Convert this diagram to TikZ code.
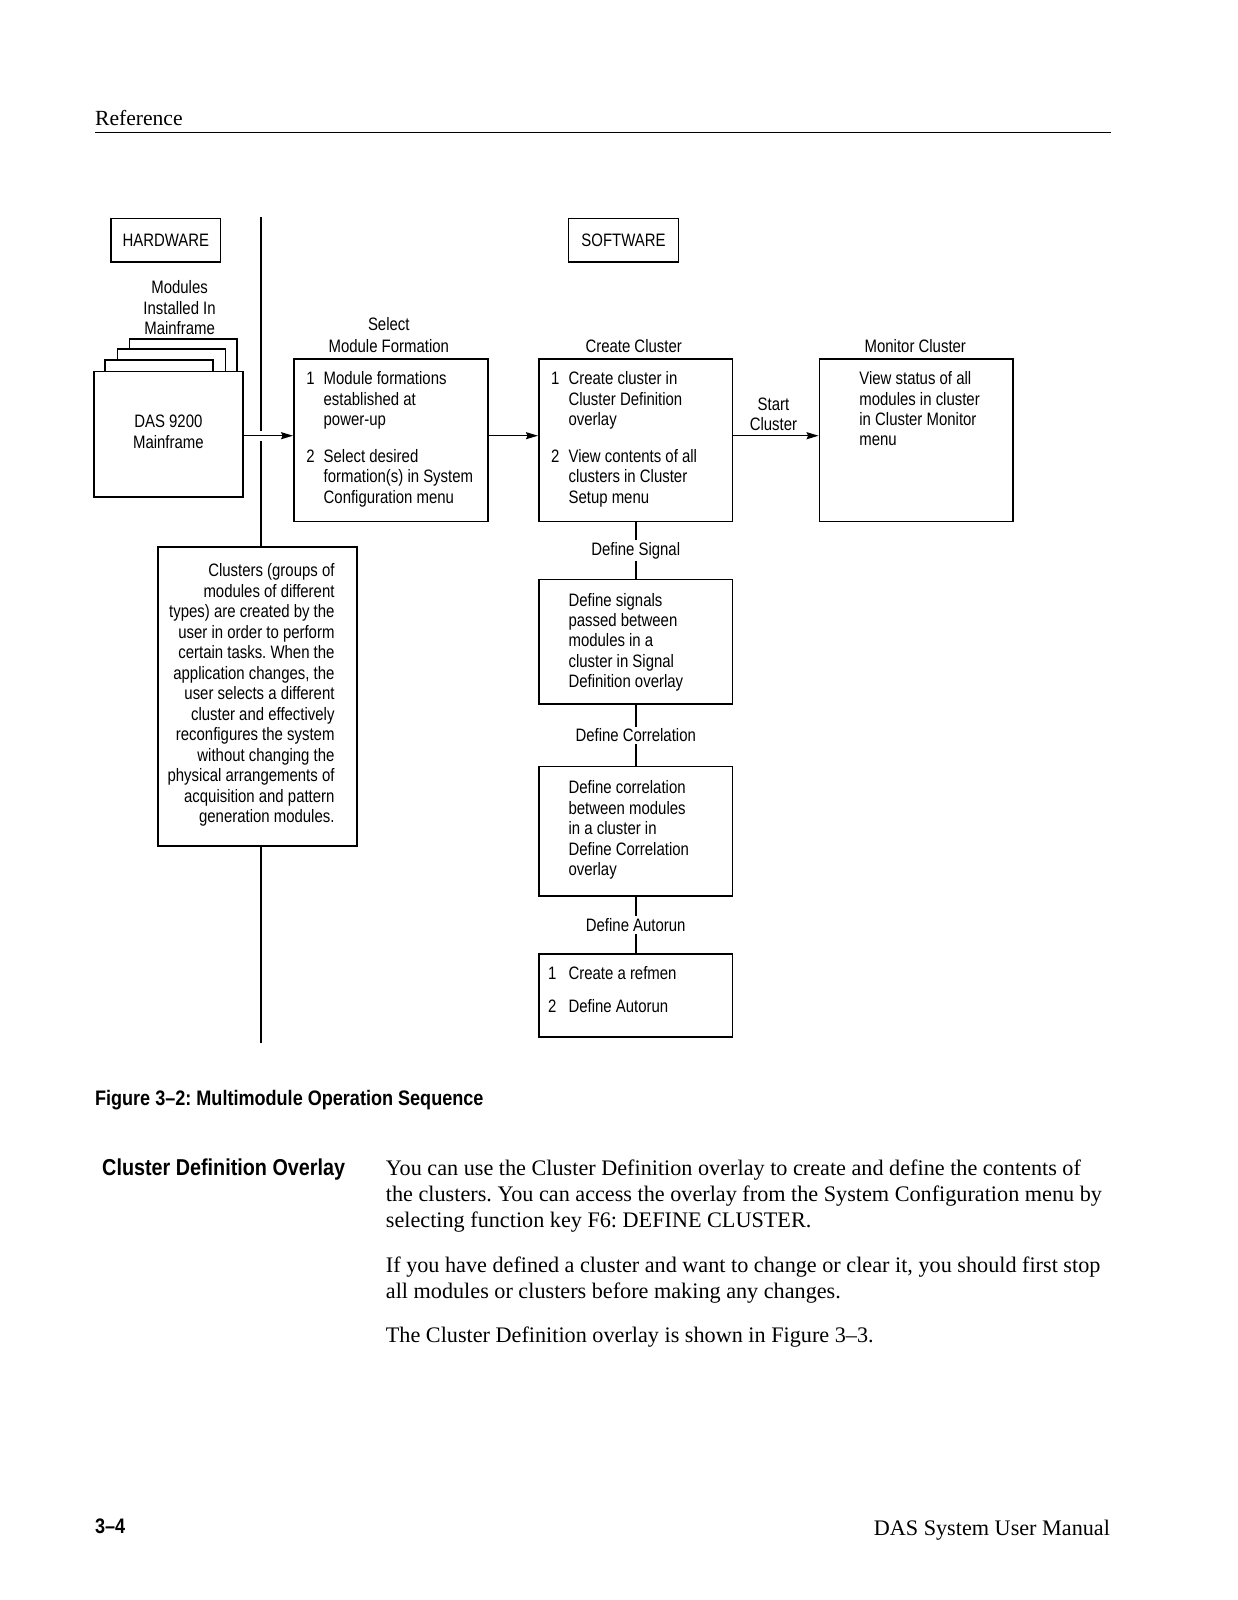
\documentclass[tikz,border=0pt]{standalone}
\usepackage{fontspec}
\newfontfamily\dfont[FakeStretch=0.83]{Liberation Sans}
\newfontfamily\serf{Liberation Serif}
\newfontfamily\hfont[FakeStretch=0.86]{Liberation Sans}
\usetikzlibrary{arrows.meta}
\def\sc{1.0204}
\frenchspacing
\begin{document}
\begin{tikzpicture}[x=1.0204pt,y=-1.0204pt,
 box/.style={draw, line width=1.6pt, fill=white, inner sep=0pt},
 dtxt/.style={font=\dfont\fontsize{18}{20.4}\selectfont, inner sep=0pt},
 arr/.style={line width=1.4pt, -{Stealth[length=12pt,width=7pt,inset=1.5pt]}},
 lnk/.style={line width=1.6pt},
 lab/.style={dtxt, fill=white, inner sep=2pt},
 body/.style={font=\serf\fontsize{22.2}{26}\selectfont, inner sep=0pt, anchor=base west},
 hd/.style={font=\hfont\bfseries\fontsize{21}{24}\selectfont, inner sep=0pt, anchor=base west},
]
\fill[white] (0,0) rectangle (1212.3,1568);
\useasboundingbox (0,0) rectangle (1212.3,1568);

% page header
\node[body, font=\serf\fontsize{21.6}{26}\selectfont] (ref) at (93,123) {Reference};
\draw[line width=1pt] (93,130) -- (1089,130);

% divider
\draw[lnk] (256,213) -- (256,422);
\draw[lnk] (256,432) -- (256,1022);

% hardware / software labels
\node[box, dtxt, minimum width=\sc*107pt, minimum height=\sc*43pt] (hw) at (162.5,235.5) {HARDWARE};
\node[box, dtxt, minimum width=\sc*108pt, minimum height=\sc*43pt] (sw) at (611,235.5) {SOFTWARE};

\foreach \t [count=\i from 0] in {Modules, Installed In, Mainframe}
  \node[dtxt, anchor=base] (modl\i) at (176,288+20*\i) {\t};

% stacked modules
\draw[box] (127,332) rectangle (232,390);
\draw[box] (115,342) rectangle (221,390);
\draw[box] (103,353) rectangle (209,390);
\node[box, minimum width=\sc*146pt, minimum height=\sc*123pt] (das) at (165,425.5) {};
\foreach \t [count=\i from 0] in {DAS 9200, Mainframe}
  \node[dtxt, anchor=base] (dasl\i) at (165,419+21*\i) {\t};

% select module formation
\foreach \t [count=\i from 0] in {Select, Module Formation}
  \node[dtxt, anchor=base] (sell\i) at (381,324+21*\i) {\t};
\node[box, minimum width=\sc*190pt, minimum height=\sc*159pt] (sel) at (383,431.5) {};
\node[dtxt, anchor=base west] (seln1) at (300,377) {1};
\foreach \t [count=\i from 0] in {Module formations, established at, power-up}
  \node[dtxt, anchor=base west] (sela\i) at (317,377+20*\i) {\t};
\node[dtxt, anchor=base west] (seln2) at (300,453) {2};
\foreach \t [count=\i from 0] in {Select desired, formation(s) in System, Configuration menu}
  \node[dtxt, anchor=base west] (selb\i) at (317,453+20*\i) {\t};

% create cluster
\node[dtxt, anchor=base] (crel) at (621,345) {Create Cluster};
\node[box, minimum width=\sc*190pt, minimum height=\sc*159pt] (cre) at (623,431.5) {};
\node[dtxt, anchor=base west] (cren1) at (540,377) {1};
\foreach \t [count=\i from 0] in {Create cluster in, Cluster Definition, overlay}
  \node[dtxt, anchor=base west] (crea\i) at (557,377+20*\i) {\t};
\node[dtxt, anchor=base west] (cren2) at (540,453) {2};
\foreach \t [count=\i from 0] in {View contents of all, clusters in Cluster, Setup menu}
  \node[dtxt, anchor=base west] (creb\i) at (557,453+20*\i) {\t};

% monitor cluster
\node[dtxt, anchor=base] (monl) at (897,345) {Monitor Cluster};
\node[box, minimum width=\sc*190pt, minimum height=\sc*159pt] (mon) at (898,431.5) {};
\foreach \t [count=\i from 0] in {View status of all, modules in cluster, in Cluster Monitor, menu}
  \node[dtxt, anchor=base west] (mona\i) at (842,377+20*\i) {\t};

% horizontal arrows
\coordinate (ay) at (0,427);
\draw[arr] (das.east |- ay) -- (sel.west |- ay);
\draw[arr] (sel.east |- ay) -- (cre.west |- ay);
\draw[arr] (cre.east |- ay) -- (mon.west |- ay);
\foreach \t [count=\i from 0] in {Start, Cluster}
  \node[dtxt, anchor=base] (stl\i) at (758,402+20*\i) {\t};

% define signal
\node[box, minimum width=\sc*190pt, minimum height=\sc*122pt] (sig) at (623,629) {};
\foreach \t [count=\i from 0] in {Define signals, passed between, modules in a, cluster in Signal, Definition overlay}
  \node[dtxt, anchor=base west] (siga\i) at (557,594+20*\i) {\t};

% define correlation
\node[box, minimum width=\sc*190pt, minimum height=\sc*127pt] (cor) at (623,814.5) {};
\foreach \t [count=\i from 0] in {Define correlation, between modules, in a cluster in, Define Correlation, overlay}
  \node[dtxt, anchor=base west] (cora\i) at (557,778+20*\i) {\t};

% define autorun
\node[box, minimum width=\sc*190pt, minimum height=\sc*81pt] (aut) at (623,975.5) {};
\node[dtxt, anchor=base west] (autn1) at (537,960) {1};
\node[dtxt, anchor=base west] (auta) at (557,960) {Create a refmen};
\node[dtxt, anchor=base west] (autn2) at (537,992) {2};
\node[dtxt, anchor=base west] (autb) at (557,992) {Define Autorun};

% vertical connectors
\draw[lnk] (cre.south) -- node[lab] (ls) {Define Signal} (sig.north);
\draw[lnk] (sig.south) -- node[lab] (lc) {Define Correlation} (cor.north);
\draw[lnk] (cor.south) -- node[lab] (la) {Define Autorun} (aut.north);

% clusters note
\node[box, minimum width=\sc*195pt, minimum height=\sc*293pt] (clu) at (252.5,682.5) {};
\foreach \t [count=\i from 0] in {Clusters (groups of, modules of different, types) are created by the, user in order to perform, certain tasks. When the, {application changes, the}, user selects a different, cluster and effectively, reconfigures the system, without changing the, physical arrangements of, acquisition and pattern, generation modules.}
  \node[dtxt, anchor=base east] (clua\i) at (328,565+20.1*\i) {\t};

% caption and body
\node[hd] (cap) at (93,1083) {Figure 3–2: Multimodule Operation Sequence};
\node[hd, font=\hfont\bfseries\fontsize{23}{26}\selectfont] (sec) at (100,1152) {Cluster Definition Overlay};
\node[body] (b1) at (378,1152) {You can use the Cluster Definition overlay to create and define the contents of};
\node[body] (b2) at (378,1177.5) {the clusters. You can access the overlay from the System Configuration menu by};
\node[body] (b3) at (378,1203) {selecting function key F6: DEFINE CLUSTER.};
\node[body] (b4) at (378,1247) {If you have defined a cluster and want to change or clear it, you should first stop};
\node[body] (b5) at (378,1272.5) {all modules or clusters before making any changes.};
\node[body] (b6) at (378,1316) {The Cluster Definition overlay is shown in Figure 3–3.};

% footer
\node[hd] (pg) at (93,1503) {3–4};
\node[body, anchor=base east] (man) at (1088,1505) {DAS System User Manual};
\end{tikzpicture}
\end{document}
